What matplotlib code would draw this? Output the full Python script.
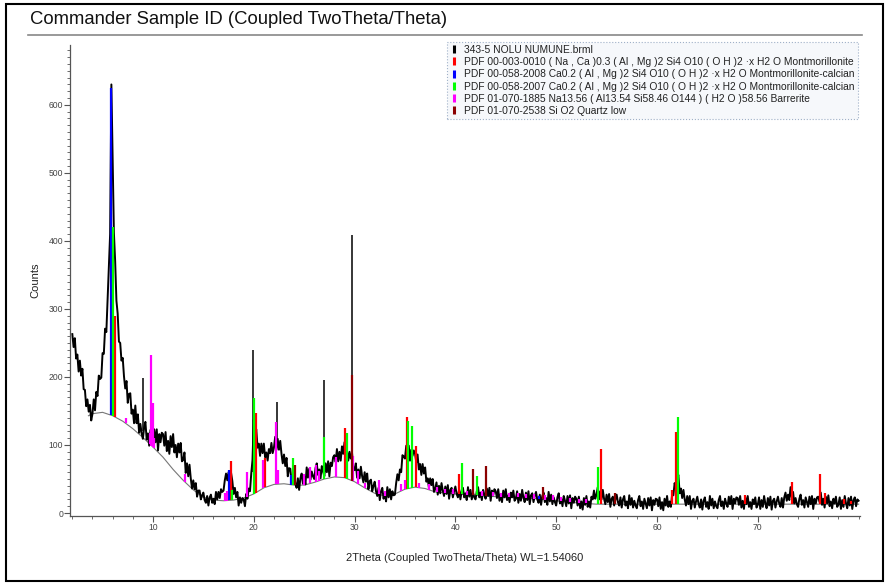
import numpy as np
import matplotlib
matplotlib.use('Agg')
import matplotlib.pyplot as plt
from matplotlib.lines import Line2D
from matplotlib.patches import Rectangle

plt.rcParams['font.family'] = ['Liberation Sans', 'DejaVu Sans']

# measured scan, 2-80 deg 2theta, 0.125 deg steps (one row per degree)
x_start, x_step = 2.0, 0.125
counts = [
    263, 244, 257, 227, 233, 208, 224, 202,   # 2
    212, 182, 181, 157, 167, 149, 159, 136,   # 3
    146, 167, 151, 178, 172, 202, 197, 199,   # 4
    235, 234, 271, 266, 314, 358, 410, 630,   # 5
    520, 412, 370, 312, 293, 252, 250, 224,   # 6
    228, 201, 183, 194, 162, 175, 176, 146,   # 7
    152, 132, 158, 132, 145, 118, 131, 117,   # 8
    109, 126, 134, 108, 117, 99, 122, 109,    # 9
    99, 123, 104, 123, 92, 116, 104, 118,     # 10
    116, 99, 119, 91, 106, 87, 113, 97,       # 11
    116, 89, 100, 82, 102, 89, 103, 76,       # 12
    78, 89, 59, 73, 54, 71, 51, 36,           # 13
    48, 35, 44, 24, 33, 33, 20, 26,           # 14
    30, 19, 15, 25, 11, 23, 27, 15,           # 15
    21, 13, 31, 20, 31, 22, 35, 31,           # 16
    33, 48, 58, 48, 60, 49, 59, 47,           # 17
    28, 37, 23, 31, 11, 23, 15, 22,           # 18
    20, 10, 28, 21, 36, 32, 58, 78,           # 19
    137, 115, 123, 96, 102, 84, 102, 88,      # 20
    102, 82, 89, 77, 94, 88, 103, 88,         # 21
    96, 112, 93, 109, 93, 106, 87, 73,        # 22
    86, 69, 81, 54, 66, 65, 46, 52,           # 23
    57, 43, 37, 51, 34, 51, 58, 43,           # 24
    53, 42, 67, 52, 65, 49, 61, 54,           # 25
    50, 66, 73, 56, 64, 51, 69, 61,           # 26
    54, 73, 60, 76, 54, 74, 69, 82,           # 27
    85, 75, 94, 76, 90, 77, 98, 87,           # 28
    104, 84, 91, 77, 90, 80, 88, 66,          # 29
    63, 73, 52, 64, 51, 68, 54, 45,           # 30
    60, 46, 58, 35, 47, 49, 32, 40,           # 31
    46, 32, 25, 37, 19, 32, 37, 21,           # 32
    28, 17, 38, 23, 35, 20, 32, 26,           # 33
    27, 44, 57, 48, 64, 60, 85, 83,           # 34
    80, 99, 87, 99, 77, 93, 84, 92,           # 35
    87, 74, 86, 64, 72, 56, 72, 58,           # 36
    67, 46, 51, 37, 51, 41, 50, 31,           # 37
    35, 45, 27, 40, 29, 44, 33, 25,           # 38
    39, 28, 41, 21, 34, 37, 23, 32,           # 39
    39, 28, 23, 35, 20, 32, 37, 23,           # 40
    29, 19, 38, 24, 34, 20, 30, 23,           # 41
    20, 32, 38, 23, 30, 19, 34, 27,           # 42
    21, 36, 25, 37, 18, 33, 26, 35,           # 43
    32, 22, 35, 18, 28, 16, 33, 23,           # 44
    35, 19, 26, 16, 30, 23, 33, 18,           # 45
    21, 32, 15, 28, 18, 34, 23, 16,           # 46
    30, 19, 32, 13, 26, 29, 16, 25,           # 47
    31, 20, 15, 27, 12, 25, 30, 16,           # 48
    22, 12, 31, 17, 27, 13, 23, 16,           # 49
    11, 23, 29, 14, 21, 10, 25, 18,           # 50
    10, 25, 14, 26, 7, 22, 15, 24,            # 51
    21, 11, 24, 7, 17, 5, 22, 12,             # 52
    25, 9, 17, 8, 24, 20, 33, 21,             # 53
    27, 38, 20, 32, 20, 34, 21, 13,           # 54
    27, 16, 28, 9, 21, 24, 11, 20,            # 55
    27, 16, 11, 23, 8, 20, 25, 11,            # 56
    17, 7, 26, 12, 22, 8, 18, 11,             # 57
    7, 19, 25, 10, 17, 6, 21, 14,             # 58
    7, 22, 11, 23, 4, 19, 12, 21,             # 59
    20, 10, 23, 6, 16, 4, 21, 11,             # 60
    25, 9, 17, 9, 27, 26, 44, 37,             # 61
    52, 56, 29, 36, 22, 34, 20, 11,           # 62
    25, 13, 25, 6, 18, 21, 8, 17,             # 63
    24, 13, 8, 20, 5, 18, 23, 9,              # 64
    16, 6, 25, 11, 21, 7, 17, 10,             # 65
    7, 19, 25, 10, 17, 6, 21, 14,             # 66
    9, 24, 13, 25, 6, 21, 14, 23,             # 67
    22, 12, 25, 8, 18, 6, 23, 13,             # 68
    25, 9, 16, 6, 20, 13, 23, 8,              # 69
    12, 23, 6, 19, 9, 25, 14, 7,              # 70
    22, 11, 24, 5, 18, 21, 8, 17,             # 71
    24, 14, 9, 22, 8, 23, 30, 18,             # 72
    27, 19, 38, 23, 31, 14, 22, 13,           # 73
    9, 21, 27, 12, 19, 8, 23, 16,             # 74
    9, 24, 13, 25, 6, 21, 14, 23,             # 75
    24, 16, 30, 12, 21, 8, 24, 14,            # 76
    26, 10, 17, 7, 21, 14, 24, 9,             # 77
    12, 23, 6, 19, 9, 25, 14, 7,              # 78
    22, 11, 24, 6, 19, 23, 10, 20,            # 79
    18,                                       # 80
]

# narrow reflections that are sharper than the step
spike_pos = [9.05, 19.95, 22.3, 26.95, 29.7]
spike_base = [120, 60, 110, 65, 86]
spike_top = [198, 240, 163, 196, 408]

# fitted background
bg_x = [3.6, 4, 5, 6, 7, 8, 9, 10, 11, 12, 13, 14, 15, 16, 17, 18, 19, 20,
        21, 22, 23, 24, 25, 26, 27, 28, 29, 30, 31, 32, 33, 34, 35, 36, 37,
        38, 40, 42, 44, 46, 48, 50, 52, 54, 56, 60, 65, 70, 75, 80]
bg_y = [143, 146, 148, 143, 135, 124, 111, 97, 82, 64, 48, 34, 23, 19,
        18, 19, 22, 28, 37, 42, 43, 41, 41, 45, 50, 53, 52, 46, 37, 29, 25,
        28, 35, 38, 36, 31, 28, 26, 24, 23, 21, 18, 15, 13, 13, 13, 13, 13,
        13, 13]

# reference patterns (stick positions / heights)
mont_pos = [6.2, 17.7, 20.2, 21.1, 29.1, 35.2, 36.1, 40.4, 54.4, 61.5, 61.9,
            68.7, 73.4, 76.2, 76.7, 78.6, 79.2]
mont_top = [290, 77, 147, 81, 125, 141, 98, 57, 94, 34, 119, 26, 45, 57, 29,
            20, 17]
mcal1_pos = [5.85, 17.5, 23.7, 48.3]
mcal1_top = [625, 63, 56, 25]
mcal2_pos = [6.05, 17.8, 20.0, 23.9, 27.0, 29.25, 35.3, 35.7, 40.7, 42.1,
             54.1, 62.1]
mcal2_top = [420, 34, 169, 81, 112, 117, 135, 128, 73, 55, 68, 141]
barr_pos = [7.3, 9.7, 9.85, 10.0, 10.1, 13.2, 17.1, 17.3, 19.3, 20.9, 22.25,
            22.45, 25.0, 25.6, 26.2, 26.5, 28.2, 29.85, 30.3, 31.0, 32.4, 33.0,
            34.6, 35.0, 36.4, 37.4, 38.2, 39.0, 39.8, 41.2, 42.6, 43.7, 44.5,
            45.3, 46.2, 47.0, 47.8, 48.9, 49.7, 50.5, 51.4, 52.3, 53.0]
barr_top = [140, 118, 232, 162, 110, 58, 29, 32, 61, 78, 134, 63, 58, 68, 70,
            62, 82, 84, 62, 44, 49, 33, 42, 48, 44, 43, 38, 36, 35, 33, 32, 31,
            30, 30, 29, 28, 28, 27, 26, 24, 22, 21, 20]
qtz_pos = [24.1, 29.75, 41.7, 43.0, 48.7, 55.8]
qtz_top = [71, 203, 65, 69, 38, 29]

labels = [
    '343-5 NOLU NUMUNE.brml',
    'PDF 00-003-0010 ( Na , Ca )0.3 ( Al , Mg )2 Si4 O10 ( O H )2 \u00b7x H2 O Montmorillonite',
    'PDF 00-058-2008 Ca0.2 ( Al , Mg )2 Si4 O10 ( O H )2 \u00b7x H2 O Montmorillonite-calcian',
    'PDF 00-058-2007 Ca0.2 ( Al , Mg )2 Si4 O10 ( O H )2 \u00b7x H2 O Montmorillonite-calcian',
    'PDF 01-070-1885 Na13.56 ( Al13.54 Si58.46 O144 ) ( H2 O )58.56 Barrerite',
    'PDF 01-070-2538 Si O2 Quartz low',
]
colors = ['#000000', '#ff0000', '#0000ff', '#00ff00', '#ff00ff', '#8b0000']

W, H = 889, 585
fig = plt.figure(figsize=(W / 100, H / 100), dpi=100)
ax = fig.add_axes([70 / W, 69 / H, 790 / W, 471 / H])

x = x_start + x_step * np.arange(len(counts))
ax.plot(x, counts, color='black', lw=1.4, zorder=2)
ax.vlines(spike_pos, spike_base, spike_top, colors='black', lw=1.1, zorder=2)
ax.plot(bg_x, bg_y, color='#777777', lw=0.8, zorder=1)

sticks = [(mont_pos, mont_top), (mcal1_pos, mcal1_top), (mcal2_pos, mcal2_top),
          (barr_pos, barr_top), (qtz_pos, qtz_top)]
for (pos, top), c in zip(sticks, colors[1:]):
    base = np.interp(pos, bg_x, bg_y)
    ax.vlines(pos, base, top, colors=c, lw=1.6, zorder=3)

ax.set_xlim(1.77, 80.14)
ax.set_ylim(-4.4, 688)
ax.set_xticks(np.arange(10, 80, 10))
ax.set_xticks(np.arange(2, 81, 2), minor=True)
ax.set_yticks(np.arange(0, 700, 100))
ax.set_yticks(np.arange(0, 690, 10), minor=True)
for s in ['top', 'right']:
    ax.spines[s].set_visible(False)
for s in ['left', 'bottom']:
    ax.spines[s].set_color('#555555')
    ax.spines[s].set_linewidth(0.9)
ax.tick_params(which='major', direction='out', length=4, width=0.8,
               color='#555555', labelsize=6.2, labelcolor='#444444', pad=1)
ax.tick_params(which='minor', direction='out', length=2.5, width=0.6,
               color='#555555')
ax.set_xlabel('2Theta (Coupled TwoTheta/Theta) WL=1.54060', fontsize=8,
              color='#222222', labelpad=15)
ax.set_ylabel('Counts', fontsize=8, color='#222222', labelpad=6)

handles = [Line2D([], [], color=c, marker='|', ls='None', markersize=6,
                  markeredgewidth=2.2) for c in colors]
leg = ax.legend(handles, labels, loc='upper right', bbox_to_anchor=(0.997, 1.007),
                borderaxespad=0, fontsize=7.4, labelspacing=0.22, borderpad=0.3,
                handlelength=0.75, handletextpad=0.6, fancybox=False,
                framealpha=1)
frame = leg.get_frame()
frame.set_facecolor('#f6f8fb')
frame.set_edgecolor('#9fb0c8')
frame.set_linestyle(':')
frame.set_linewidth(0.8)
for t in leg.get_texts():
    t.set_color('#222222')

fig.text(30 / W, 1 - 19 / H, 'Commander Sample ID (Coupled TwoTheta/Theta)',
         fontsize=13.3, va='center', ha='left', color='#111111')
fig.add_artist(Line2D([28 / W, 862 / W], [1 - 35 / H, 1 - 35 / H],
                      color='#888888', lw=1.2, transform=fig.transFigure))
fig.add_artist(Rectangle((6 / W, 4 / H), 877 / W, 577 / H, fill=False,
                         edgecolor='black', lw=1.5, transform=fig.transFigure))

fig.savefig('out.png', dpi=100)
